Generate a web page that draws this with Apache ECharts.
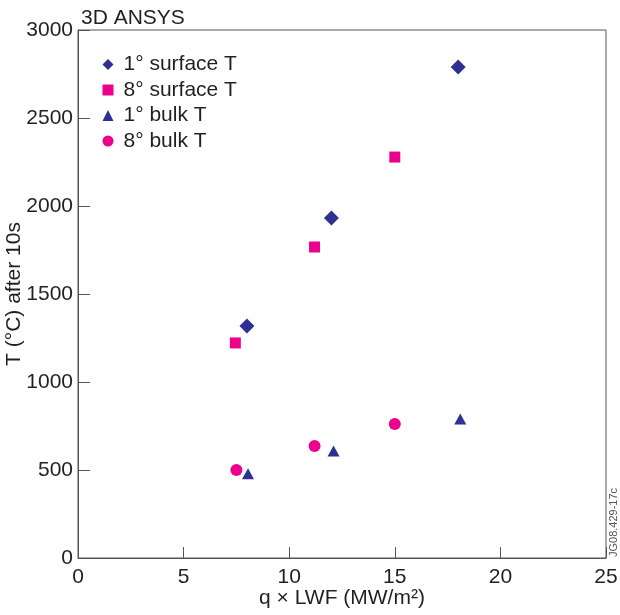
<!DOCTYPE html>
<html>
<head>
<meta charset="utf-8">
<script src="https://cdn.jsdelivr.net/npm/echarts@6/dist/echarts.min.js"></script>
<style>
  html, body { margin: 0; padding: 0; background: #fff; }
  #chart { width: 620px; height: 615px; }
</style>
</head>
<body>
<div id="chart"></div>
<script>
// Temperature after 10 s versus q x LWF, 3D ANSYS runs
const seriesNames = ['1° surface T', '8° surface T', '1° bulk T', '8° bulk T'];
const surface1 = [[8.0, 1318], [12.0, 1932], [18.0, 2790]];
const surface8 = [[7.45, 1222], [11.2, 1767], [15.0, 2278]];
const bulk1 = [[8.05, 478], [12.1, 608], [18.1, 790]];
const bulk8 = [[7.5, 500], [11.2, 636], [15.0, 761]];
const xTicks = { min: 0, max: 25, interval: 5 };
const yTicks = { min: 0, max: 3000, interval: 500 };

const NAVY = '#2e3192';
const MAGENTA = '#ec008c';
const INK = '#231f20';
const FRAME = '#555';
const FONT = "'Liberation Sans', Arial, Helvetica, sans-serif";
const FS = 21;

const chart = echarts.init(document.getElementById('chart'), null, { renderer: 'canvas' });

chart.setOption({
  backgroundColor: '#fff',
  animation: false,
  title: {
    text: '3D ANSYS',
    left: 81, top: 8, padding: 0,
    textStyle: { fontFamily: FONT, fontSize: FS, fontWeight: 'normal', color: INK }
  },
  legend: {
    orient: 'vertical',
    left: 102.5, top: 54, padding: 0,
    itemWidth: 11, itemHeight: 11,
    itemGap: 4.5,
    textStyle: { fontFamily: FONT, fontSize: FS, color: INK, lineHeight: 21, padding: [0, 0, 0, 5] },
    data: [
      { name: seriesNames[0], icon: 'diamond', itemStyle: { color: NAVY } },
      { name: seriesNames[1], icon: 'rect', itemStyle: { color: MAGENTA } },
      { name: seriesNames[2], icon: 'triangle', itemStyle: { color: NAVY } },
      { name: seriesNames[3], icon: 'circle', itemStyle: { color: MAGENTA } }
    ]
  },
  grid: {
    left: 78, right: 14, top: 30, bottom: 57,
    outerBoundsMode: 'none', containLabel: false,
    show: true, borderColor: FRAME, borderWidth: 1
  },
  xAxis: {
    type: 'value',
    min: xTicks.min, max: xTicks.max, interval: xTicks.interval,
    name: 'q × LWF (MW/m²)',
    nameLocation: 'middle', nameGap: 30, nameMoveOverlap: false,
    nameTextStyle: { fontFamily: FONT, fontSize: FS, color: INK },
    axisLine: { show: true, lineStyle: { color: FRAME, width: 1 } },
    axisTick: { show: true, inside: true, length: 11, lineStyle: { color: FRAME } },
    axisLabel: { fontFamily: FONT, fontSize: FS, color: INK, margin: 9 },
    splitLine: { show: false }
  },
  yAxis: {
    type: 'value',
    min: yTicks.min, max: yTicks.max, interval: yTicks.interval,
    name: 'T (°C) after 10s',
    nameLocation: 'middle', nameGap: 53, nameMoveOverlap: false,
    nameTextStyle: { fontFamily: FONT, fontSize: FS, color: INK },
    axisLine: { show: true, lineStyle: { color: FRAME, width: 1 } },
    axisTick: { show: true, inside: true, length: 12, lineStyle: { color: FRAME } },
    axisLabel: { fontFamily: FONT, fontSize: FS, color: INK, margin: 5, formatter: v => String(v) },
    splitLine: { show: false }
  },
  series: [
    { name: seriesNames[0], type: 'scatter', symbol: 'diamond', symbolSize: 15,
      itemStyle: { color: NAVY, opacity: 1 }, data: surface1 },
    { name: seriesNames[1], type: 'scatter', symbol: 'rect', symbolSize: 11,
      itemStyle: { color: MAGENTA, opacity: 1 }, data: surface8 },
    { name: seriesNames[2], type: 'scatter', symbol: 'triangle', symbolSize: [12, 11],
      itemStyle: { color: NAVY, opacity: 1 }, data: bulk1 },
    { name: seriesNames[3], type: 'scatter', symbol: 'circle', symbolSize: 12,
      itemStyle: { color: MAGENTA, opacity: 1 }, data: bulk8 }
  ],
  graphic: [{
    type: 'text',
    x: 614, y: 557,
    rotation: Math.PI / 2,
    style: { text: 'JG08.429-17c', fontFamily: FONT, fontSize: 11, fill: FRAME, textAlign: 'left', textVerticalAlign: 'middle' }
  }]
});
</script>
</body>
</html>
